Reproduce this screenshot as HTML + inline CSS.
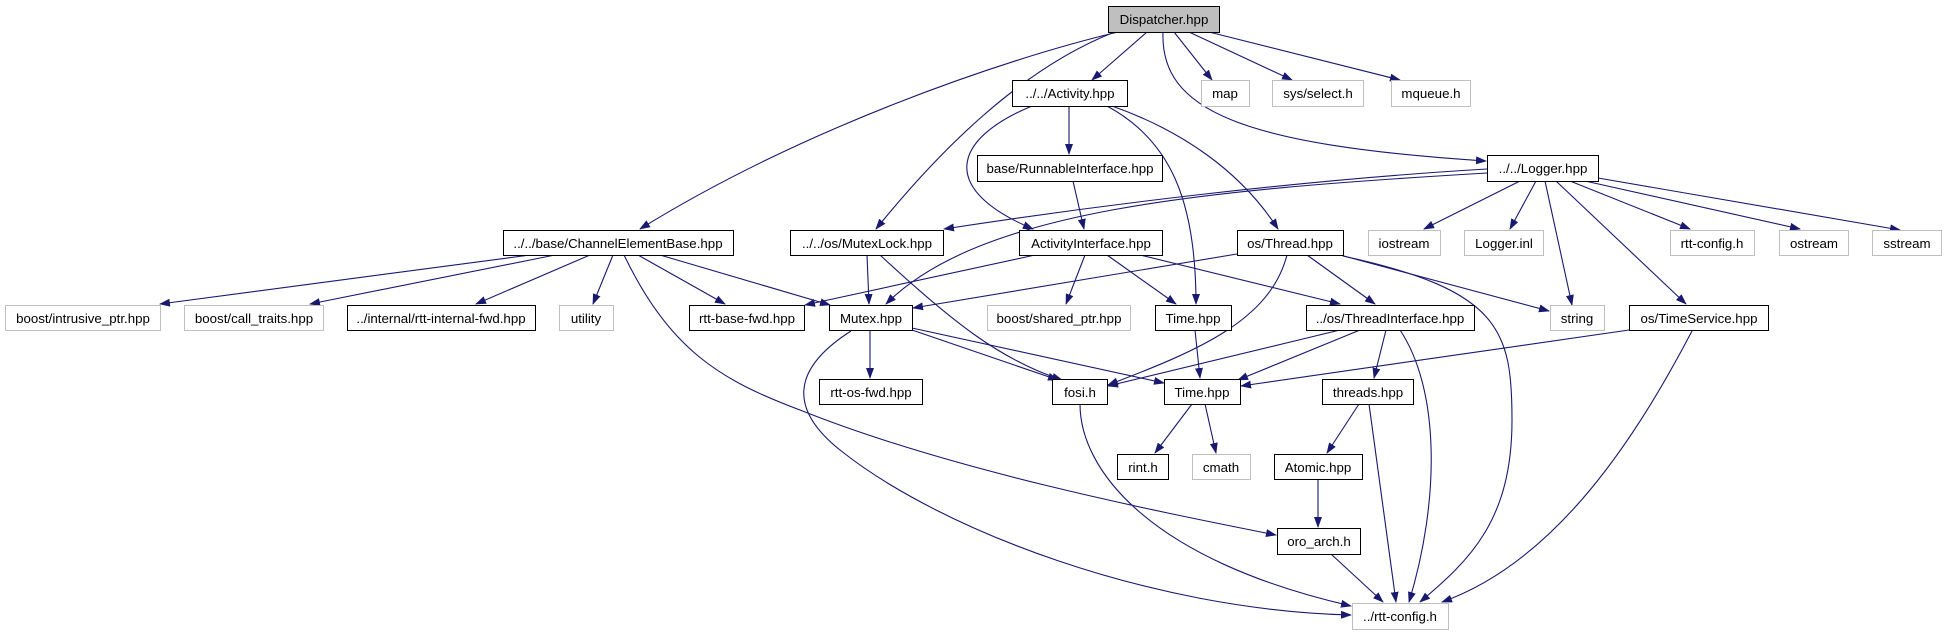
<!DOCTYPE html>
<html><head><meta charset="utf-8"><style>
html,body{margin:0;padding:0;background:#fff;width:1947px;height:635px;overflow:hidden}
svg{display:block}
text{font-family:"Liberation Sans",Helvetica,Arial,sans-serif;font-size:13.3px;fill:#000;text-anchor:middle}
.n rect{fill:#fff;stroke:#000;stroke-width:1}
.g rect{fill:#fff;stroke:#bfbfbf;stroke-width:1}
path.e{fill:none;stroke:#191970;stroke-width:1.1;marker-end:url(#a)}
</style></head><body>
<svg width="1947" height="635" viewBox="0 0 1947 635" xmlns="http://www.w3.org/2000/svg">
<defs><marker id="a" markerWidth="11" markerHeight="8" refX="10" refY="4" orient="auto" markerUnits="userSpaceOnUse"><path d="M0,0 L11,4 L0,8z" fill="#191970"/></marker></defs>

<!-- edges -->
<path class="e" d="M1147,32 L1092,80"/>
<path class="e" d="M1174,32 L1212,80"/>
<path class="e" d="M1189,32 L1292,80"/>
<path class="e" d="M1209,32 L1400,80"/>
<path class="e" d="M1163,32 C1160,110 1240,145 1486,161"/>
<path class="e" d="M1118,32 C1000,60 800,130 640,229"/>
<path class="e" d="M1112,33 C1020,70 940,150 876,229"/>
<path class="e" d="M1069,106 L1069,154"/>
<path class="e" d="M1032,106 C950,140 940,190 1033,229"/>
<path class="e" d="M1107,106 C1170,140 1196,200 1196,304"/>
<path class="e" d="M1112,106 C1180,130 1240,170 1278,229"/>
<path class="e" d="M1073,181 L1084,229"/>
<path class="e" d="M1487,169 C1300,180 1100,205 944,229"/>
<path class="e" d="M1487,173 C1200,190 980,210 886,304"/>
<path class="e" d="M1520,181 L1424,229"/>
<path class="e" d="M1536,181 L1510,229"/>
<path class="e" d="M1545,181 L1572,305"/>
<path class="e" d="M1556,181 L1686,304"/>
<path class="e" d="M1570,181 L1690,229"/>
<path class="e" d="M1585,181 L1800,229"/>
<path class="e" d="M1598,178 L1900,230"/>
<path class="e" d="M530,255 L160,304"/>
<path class="e" d="M555,255 L310,304"/>
<path class="e" d="M590,255 L476,304"/>
<path class="e" d="M613,255 L593,304"/>
<path class="e" d="M638,255 L725,304"/>
<path class="e" d="M660,255 L830,305"/>
<path class="e" d="M624,255 C670,350 720,380 800,410 C950,470 1150,510 1276,535"/>
<path class="e" d="M867,255 L869,304"/>
<path class="e" d="M880,255 C950,320 1000,360 1062,380"/>
<path class="e" d="M1035,255 L805,305"/>
<path class="e" d="M1085,255 L1066,304"/>
<path class="e" d="M1107,255 L1176,304"/>
<path class="e" d="M1140,255 L1340,304"/>
<path class="e" d="M1237,254 L913,308"/>
<path class="e" d="M1287,255 C1270,320 1200,350 1108,385"/>
<path class="e" d="M1307,255 L1375,304"/>
<path class="e" d="M1340,255 L1549,311"/>
<path class="e" d="M1343,256 C1500,290 1512,330 1512,420 C1512,520 1470,560 1420,602"/>
<path class="e" d="M870,330 L870,378"/>
<path class="e" d="M912,330 L1058,380"/>
<path class="e" d="M912,328 L1164,383"/>
<path class="e" d="M851,331 C790,370 790,410 840,450 C940,530 1150,610 1351,615"/>
<path class="e" d="M1080,404 C1080,470 1150,560 1351,606"/>
<path class="e" d="M1195,330 L1200,378"/>
<path class="e" d="M1340,330 L1108,386"/>
<path class="e" d="M1360,330 L1238,380"/>
<path class="e" d="M1386,330 L1374,378"/>
<path class="e" d="M1400,330 C1440,390 1440,500 1409,602"/>
<path class="e" d="M1629,330 L1241,386"/>
<path class="e" d="M1692,331 C1640,430 1560,560 1442,602"/>
<path class="e" d="M1192,404 L1155,453"/>
<path class="e" d="M1205,404 L1216,453"/>
<path class="e" d="M1359,404 L1327,453"/>
<path class="e" d="M1369,404 L1396,602"/>
<path class="e" d="M1318,479 L1318,527"/>
<path class="e" d="M1331,554 L1383,602"/>

<!-- nodes -->
<g class="n"><rect x="1108.5" y="6.5" width="111" height="26" style="fill:#bfbfbf"/><text x="1164" y="24">Dispatcher.hpp</text></g>
<g class="n"><rect x="1012.5" y="80.5" width="115" height="26"/><text x="1070" y="98">../../Activity.hpp</text></g>
<g class="g"><rect x="1201.5" y="80.5" width="48" height="26"/><text x="1225" y="98">map</text></g>
<g class="g"><rect x="1272.5" y="80.5" width="91" height="26"/><text x="1318" y="98">sys/select.h</text></g>
<g class="g"><rect x="1391.5" y="80.5" width="79" height="26"/><text x="1431" y="98">mqueue.h</text></g>
<g class="n"><rect x="977.5" y="155.5" width="185" height="26"/><text x="1070" y="173">base/RunnableInterface.hpp</text></g>
<g class="n"><rect x="1487.5" y="155.5" width="111" height="26"/><text x="1543" y="173">../../Logger.hpp</text></g>

<g class="n"><rect x="503.5" y="230.5" width="230" height="25"/><text x="618" y="248">../../base/ChannelElementBase.hpp</text></g>
<g class="n"><rect x="790.5" y="230.5" width="153" height="25"/><text x="867" y="248">../../os/MutexLock.hpp</text></g>
<g class="n"><rect x="1019.5" y="230.5" width="143" height="25"/><text x="1091" y="248">ActivityInterface.hpp</text></g>
<g class="n"><rect x="1237.5" y="230.5" width="106" height="25"/><text x="1290" y="248">os/Thread.hpp</text></g>
<g class="g"><rect x="1368.5" y="230.5" width="72" height="25"/><text x="1404" y="248">iostream</text></g>
<g class="g"><rect x="1464.5" y="230.5" width="79" height="25"/><text x="1504" y="248">Logger.inl</text></g>
<g class="g"><rect x="1670.5" y="230.5" width="84" height="25"/><text x="1712" y="248">rtt-config.h</text></g>
<g class="g"><rect x="1779.5" y="230.5" width="69" height="25"/><text x="1814" y="248">ostream</text></g>
<g class="g"><rect x="1872.5" y="230.5" width="69" height="25"/><text x="1907" y="248">sstream</text></g>

<g class="g"><rect x="5.5" y="305.5" width="155" height="25"/><text x="83" y="323">boost/intrusive_ptr.hpp</text></g>
<g class="g"><rect x="184.5" y="305.5" width="139" height="25"/><text x="254" y="323">boost/call_traits.hpp</text></g>
<g class="n"><rect x="347.5" y="305.5" width="188" height="25"/><text x="441" y="323">../internal/rtt-internal-fwd.hpp</text></g>
<g class="g"><rect x="559.5" y="305.5" width="54" height="25"/><text x="586" y="323">utility</text></g>
<g class="n"><rect x="689.5" y="305.5" width="115" height="25"/><text x="747" y="323">rtt-base-fwd.hpp</text></g>
<g class="n"><rect x="829.5" y="305.5" width="83" height="25"/><text x="871" y="323">Mutex.hpp</text></g>
<g class="g"><rect x="987.5" y="305.5" width="143" height="25"/><text x="1059" y="323">boost/shared_ptr.hpp</text></g>
<g class="n"><rect x="1155.5" y="305.5" width="76" height="25"/><text x="1193" y="323">Time.hpp</text></g>
<g class="n"><rect x="1306.5" y="305.5" width="168" height="25"/><text x="1390" y="323">../os/ThreadInterface.hpp</text></g>
<g class="g"><rect x="1550.5" y="305.5" width="54" height="25"/><text x="1577" y="323">string</text></g>
<g class="n"><rect x="1629.5" y="305.5" width="139" height="25"/><text x="1699" y="323">os/TimeService.hpp</text></g>

<g class="n"><rect x="819.5" y="379.5" width="103" height="25"/><text x="871" y="397">rtt-os-fwd.hpp</text></g>
<g class="n"><rect x="1052.5" y="379.5" width="55" height="25"/><text x="1080" y="397">fosi.h</text></g>
<g class="n"><rect x="1164.5" y="379.5" width="76" height="25"/><text x="1202" y="397">Time.hpp</text></g>
<g class="n"><rect x="1322.5" y="379.5" width="91" height="25"/><text x="1368" y="397">threads.hpp</text></g>

<g class="n"><rect x="1117.5" y="454.5" width="51" height="25"/><text x="1143" y="472">rint.h</text></g>
<g class="g"><rect x="1192.5" y="454.5" width="58" height="25"/><text x="1221" y="472">cmath</text></g>
<g class="n"><rect x="1274.5" y="454.5" width="88" height="25"/><text x="1318" y="472">Atomic.hpp</text></g>

<g class="n"><rect x="1277.5" y="528.5" width="83" height="26"/><text x="1319" y="546">oro_arch.h</text></g>
<g class="g"><rect x="1352.5" y="603.5" width="96" height="26"/><text x="1400" y="621">../rtt-config.h</text></g>
</svg>
</body></html>
